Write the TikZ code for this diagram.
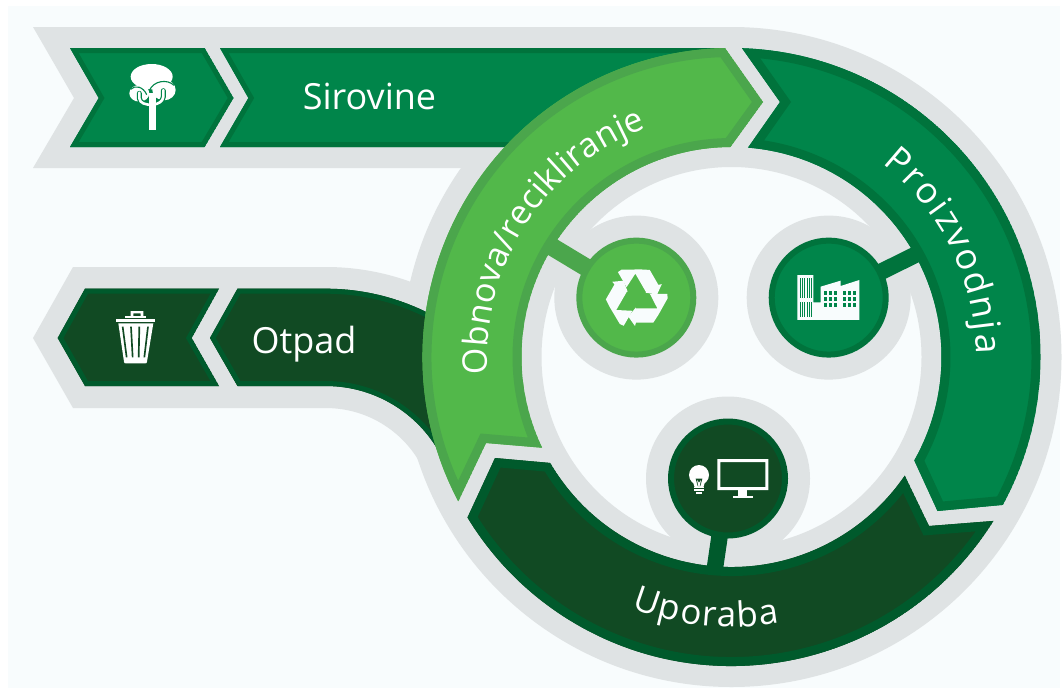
\documentclass[tikz,border=0pt]{standalone}
\usepackage{fontspec}
\setmainfont{Open Sans}
\usetikzlibrary{decorations.text}
\definecolor{panelc}{HTML}{F8FCFD}
\definecolor{grayc}{HTML}{DFE3E4}
\definecolor{midc}{HTML}{00854A}
\definecolor{midb}{HTML}{00733C}
\definecolor{lightc}{HTML}{52B84A}
\definecolor{lightb}{HTML}{4BA64C}
\definecolor{darkc}{HTML}{114A23}
\definecolor{darkb}{HTML}{005A2C}
\newcommand{\bandshape}[4]{\begin{scope}\clip #4;\fill[#1] #4;\draw[#2,line width=#3,line join=miter] #4;\end{scope}}
\newcommand{\bigfont}{\fontsize{36}{36}\selectfont\color{white}}
\newcommand{\obfont}{\fontsize{34}{34}\selectfont\color{white}}
\newcommand{\upfont}{\fontsize{35}{35}\selectfont\color{white}}
\newcommand{\recyarrow}{(41,-10) -- (93,-10) -- (94,3) -- (66,53) -- (51,76) -- (-1,76) -- (-4,86) -- (-24,58) -- (-1,30) -- (-3,33) -- (63,33) -- cycle}
\tikzset{
  hub/.style={circle,inner sep=0pt,minimum size=114pt,line width=6pt},
  stemline/.style={shorten <=-3pt},
  bannertext/.style={font=\bigfont,anchor=base,inner sep=0pt},
}
\begin{document}
\begin{tikzpicture}[x=1pt,y=1pt]
\useasboundingbox (0,0) rectangle (1064,-688);
\fill[panelc] (8,-6) rectangle (1060,-688);
\begin{scope}[yscale=-1]
% gray backing
\fill[grayc] (33,27) -- (732,27) -- (732,120) -- (470,168) -- (33,168) -- (74,98) -- cycle;
\fill[grayc] (73,267) -- (326,267) arc[start angle=-90,end angle=-60,radius=249pt] -- (423.9,470.4) arc[start angle=-25,end angle=-90,radius=108pt] -- (73,408) -- (33,338) -- cycle;
\fill[grayc,even odd rule] (731.5,357) circle[radius=330pt] (731.5,357) circle[radius=190pt];
\fill[grayc] (636.3,297.6) circle[radius=82pt];
\fill[grayc] (828.7,297.6) circle[radius=82pt];
\fill[grayc] (728,478.5) circle[radius=82pt];
% Sirovine banner
\bandshape{midc}{midb}{10pt}{(70,48) -- (204.6,48) -- (233.5,98) -- (204.6,147) -- (70,147) -- (98.7,98) -- cycle}
\bandshape{midc}{midb}{10pt}{(220,48) -- (725,48) -- (600,100) -- (520,147) -- (220,147) -- (248.4,98) -- cycle}
% Otpad banner
\bandshape{darkc}{darkb}{10pt}{(85,288.7) -- (219,288.7) -- (191.7,338) -- (219,386) -- (85,386) -- (57.7,338) -- cycle}
\bandshape{darkc}{darkb}{10pt}{(237.5,288.7) -- (326,288.7) arc[start angle=-90,end angle=-55,radius=227.3pt] -- (440.8,455) arc[start angle=-28,end angle=-90,radius=130pt] -- (237.5,386) -- (210,338) -- cycle}
% ring
\begin{scope}[shift={(731.5,357)}]
\bandshape{midc}{midb}{18pt}{(-88.05:309) arc[start angle=-88.05,end angle=28.6,radius=309pt] -- (206,154) -- (29.5:210) arc[start angle=29.5,end angle=-85.5,radius=210pt] -- (48.5,-255) -- cycle}
\bandshape{darkc}{darkb}{18pt}{(32.04:309) arc[start angle=32.04,end angle=148.7,radius=309pt] -- (-236.5,101) -- (149.7:210) arc[start angle=149.7,end angle=34.4,radius=210pt] -- (197.5,169) -- cycle}
\bandshape{lightc}{lightb}{18pt}{(152.15:309) arc[start angle=152.15,end angle=268.8,radius=309pt] -- (31.5,-255) -- (269.7:210) arc[start angle=269.7,end angle=154.4,radius=210pt] -- (-245.5,86) -- cycle}
\end{scope}
% hubs and stems
\coordinate (recycleend) at (549,245);
\coordinate (factoryend) at (920,252.5);
\coordinate (useend) at (714.5,571);
\node[hub,draw=lightb,fill=lightc] (recycle) at (636.3,297.6) {};
\node[hub,draw=midb,fill=midc] (factory) at (828.7,297.6) {};
\node[hub,draw=darkb,fill=darkc] (use) at (728,478.5) {};
\draw[stemline,lightb,line width=18pt] (recycle) -- (recycleend);
\draw[stemline,midb,line width=16.5pt] (factory) -- (factoryend);
\draw[stemline,darkb,line width=16.5pt] (use) -- (useend);
% recycling icon
\foreach \a in {0,120,240}{
  \fill[panelc,shift={(636.3,297.3)},scale=0.3333,rotate=\a] \recyarrow;
}
% factory icon
\begin{scope}[shift={(760,230)},scale=0.3333]
\fill[panelc] (112,135) -- (160,135) -- (160,217) -- (182,217) -- (182,170) -- (242,152) -- (242,168) -- (298,150) -- (298,270) -- (112,270) -- cycle;
\foreach \sx in {119,126,133,140,147,153}{
  \fill[midc] (\sx,145) rectangle ++(3,60);
  \fill[midc] (\sx,215) rectangle ++(3,45);
}
\foreach \bx in {192,249}{
  \foreach \i in {0,1,2}{
    \foreach \j in {0,1,2}{
      \fill[midc] (\bx+\i*15,182+\j*18) rectangle ++(10,13);
    }
  }
}
\end{scope}
% bulb and monitor icon
\begin{scope}[shift={(660,430)},scale=0.3333]
\fill[white,even odd rule] (172,87) rectangle (325,180) (181,96) rectangle (316,171);
\fill[white] (235,180) rectangle (262,198);
\fill[white] (218,197) rectangle (280,204);
\fill[white] (117,135) circle[radius=30pt];
\fill[white] (97,150) -- (137,150) -- (130,172) -- (104,172) -- cycle;
\fill[darkc] (107,146) -- (127,146) -- (121,168) -- (113,168) -- cycle;
\fill[white] (111,150) -- (117,158) -- (123,150) -- (119,168) -- (115,168) -- cycle;
\fill[white] (102,170) rectangle (132,175);
\fill[white] (103,178) rectangle (131,183);
\fill[white] (107,186) rectangle (127,191);
\end{scope}
% tree icon
\begin{scope}[shift={(90,60)},scale=0.3333]
\fill[white] (185,50) ellipse[x radius=63pt,y radius=38pt];
\fill[white] (148,100) ellipse[x radius=30pt,y radius=25pt];
\fill[white] (222,90) ellipse[x radius=35pt,y radius=31pt];
\draw[midc,line width=1.1pt] (178,92) .. controls (190,62) and (232,56) .. (252,76);
\draw[midc,line width=1.1pt] (122,88) .. controls (135,74) and (160,80) .. (170,104);
\draw[midc,line width=5pt,line cap=round] (148,100) -- (148,115) .. controls (150,130) and (165,134) .. (188,135);
\draw[midc,line width=5pt,line cap=round] (220,92) -- (220,110) .. controls (218,125) and (208,130) .. (188,135);
\draw[white,line width=2.6pt,line cap=round] (148,98) -- (148,115) .. controls (150,130) and (165,134) .. (188,135);
\draw[white,line width=2.6pt,line cap=round] (220,90) -- (220,110) .. controls (218,125) and (208,130) .. (188,135);
\fill[white] (178,100) rectangle (198,210);
\end{scope}
% trash icon
\begin{scope}[shift={(100,300)},scale=0.3333]
\fill[white,even odd rule] (92,33) rectangle (130,50) (100,40) rectangle (122,50);
\fill[white] (75,47) rectangle (138,54);
\fill[white] (48,56) rectangle (165,67);
\fill[white] (55,70) -- (160,70) -- (141,185) .. controls (140,190) .. (135,190) -- (78,190) .. controls (73,190) .. (72,185) -- cycle;
\foreach \t/\b in {68/80,93/98,118/116,144/133}{
  \fill[darkc] (\t-2.5,80) -- (\t+2.5,80) -- (\b+2.5,172) -- (\b-2.5,172) -- cycle;
}
\end{scope}
\end{scope}
% texts
\node[bannertext] (sirovine) at (369.5,-109) {Sirovine};
\node[bannertext] (otpad) at (304,-353.5) {Otpad};
\begin{scope}[shift={(731.5,-357)}]
\path[decorate,decoration={text along path,text={|\obfont|Obnova/recikliranje},text align={fit to path}}] (184:244) arc[start angle=184,end angle=110.4,radius=244pt];
\path[decorate,decoration={text along path,text={|\bigfont|Proizvodnja},text align={fit to path}}] (52:245) arc[start angle=52,end angle=0.7,radius=245pt];
\path[decorate,decoration={text along path,text={|\upfont|Uporaba},text align={fit to path}}] (248.3:270) arc[start angle=248.3,end angle=280.2,radius=270pt];
\end{scope}
\end{tikzpicture}
\end{document}
